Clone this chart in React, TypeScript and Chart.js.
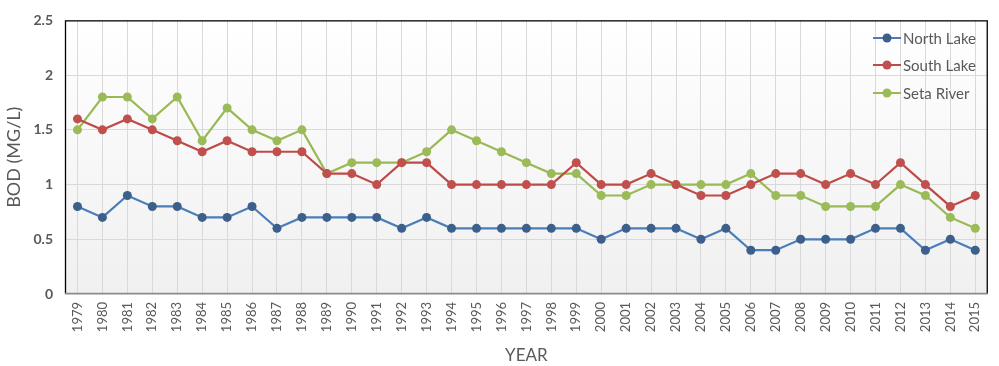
import React, { useEffect, useRef } from "react";
import { Chart, registerables } from "chart.js";

Chart.register(...registerables);

const years = [
  "1979","1980","1981","1982","1983","1984","1985","1986","1987","1988",
  "1989","1990","1991","1992","1993","1994","1995","1996","1997","1998",
  "1999","2000","2001","2002","2003","2004","2005","2006","2007","2008",
  "2009","2010","2011","2012","2013","2014","2015",
];

const northLake = [
  0.8, 0.7, 0.9, 0.8, 0.8, 0.7, 0.7, 0.8, 0.6, 0.7,
  0.7, 0.7, 0.7, 0.6, 0.7, 0.6, 0.6, 0.6, 0.6, 0.6,
  0.6, 0.5, 0.6, 0.6, 0.6, 0.5, 0.6, 0.4, 0.4, 0.5,
  0.5, 0.5, 0.6, 0.6, 0.4, 0.5, 0.4,
];

const southLake = [
  1.6, 1.5, 1.6, 1.5, 1.4, 1.3, 1.4, 1.3, 1.3, 1.3,
  1.1, 1.1, 1.0, 1.2, 1.2, 1.0, 1.0, 1.0, 1.0, 1.0,
  1.2, 1.0, 1.0, 1.1, 1.0, 0.9, 0.9, 1.0, 1.1, 1.1,
  1.0, 1.1, 1.0, 1.2, 1.0, 0.8, 0.9,
];

const setaRiver = [
  1.5, 1.8, 1.8, 1.6, 1.8, 1.4, 1.7, 1.5, 1.4, 1.5,
  1.1, 1.2, 1.2, 1.2, 1.3, 1.5, 1.4, 1.3, 1.2, 1.1,
  1.1, 0.9, 0.9, 1.0, 1.0, 1.0, 1.0, 1.1, 0.9, 0.9,
  0.8, 0.8, 0.8, 1.0, 0.9, 0.7, 0.6,
];

const yTickLabels = ["0", "0.5", "1", "1.5", "2", "2.5"];

const FONT = "Lato, 'Open Sans', sans-serif";

const bgPlugin = {
  id: "plotBg",
  beforeDraw(chart: any) {
    const { ctx, chartArea } = chart;
    const { left, top, right, bottom } = chartArea;
    ctx.save();
    const g = ctx.createLinearGradient(0, top, 0, bottom);
    g.addColorStop(0, "#ffffff");
    g.addColorStop(1, "#f0f0f0");
    ctx.fillStyle = g;
    ctx.fillRect(left, top, right - left, bottom - top);
    ctx.restore();
  },
  afterDraw(chart: any) {
    const { ctx, chartArea } = chart;
    const { left, top, right, bottom } = chartArea;
    ctx.save();
    ctx.lineWidth = 1.3;
    ctx.strokeStyle = "#000000";
    ctx.beginPath();
    ctx.moveTo(left + 0.5, bottom);
    ctx.lineTo(left + 0.5, top + 0.5);
    ctx.lineTo(right - 0.5, top + 0.5);
    ctx.lineTo(right - 0.5, bottom);
    ctx.stroke();
    ctx.strokeStyle = "#8c8c8c";
    ctx.beginPath();
    ctx.moveTo(left, bottom - 0.5);
    ctx.lineTo(right, bottom - 0.5);
    ctx.stroke();

    // legend
    const items = chart.data.datasets;
    const lx = 873;
    const ys = [38, 65, 93];
    ctx.font = `15px ${FONT}`;
    ctx.textBaseline = "middle";
    ctx.textAlign = "left";
    items.forEach((ds: any, i: number) => {
      const y = ys[i];
      ctx.strokeStyle = ds.borderColor;
      ctx.lineWidth = 2;
      ctx.beginPath();
      ctx.moveTo(lx, y);
      ctx.lineTo(lx + 28, y);
      ctx.stroke();
      ctx.fillStyle = ds.pointBackgroundColor;
      ctx.beginPath();
      ctx.arc(lx + 14, y, 4.5, 0, Math.PI * 2);
      ctx.fill();
      ctx.fillStyle = "#595959";
      ctx.fillText(ds.label, lx + 30, y + 1);
    });
    ctx.restore();
  },
};

export default function App() {
  const ref = useRef<HTMLCanvasElement>(null);

  useEffect(() => {
    document.body.style.margin = "0";
    const mk = (label: string, data: number[], line: string, pt: string) => ({
      label,
      data,
      borderColor: line,
      backgroundColor: pt,
      pointBackgroundColor: pt,
      pointBorderColor: pt,
      pointRadius: 4.5,
      pointBorderWidth: 0,
      borderWidth: 2.2,
      tension: 0,
    });
    const chart = new Chart(ref.current!, {
      type: "line",
      data: {
        labels: years,
        datasets: [
          mk("North Lake", northLake, "#4a7ebb", "#3d5f8c"),
          mk("South Lake", southLake, "#be4b48", "#c0504d"),
          mk("Seta River", setaRiver, "#98b954", "#9bbb59"),
        ],
      },
      options: {
        animation: false,
        responsive: false,
        layout: { padding: { left: 3, right: 9, top: 14, bottom: 0 } },
        plugins: { legend: { display: false }, tooltip: { enabled: false } },
        scales: {
          x: {
            offset: true,
            grid: { color: "#d9d9d9", drawTicks: false, offset: false, lineWidth: 1 },
            border: { display: false },
            ticks: {
              color: "#595959",
              font: { family: FONT, size: 13 },
              minRotation: 90,
              maxRotation: 90,
              autoSkip: false,
              padding: 8,
            },
            title: {
              display: true,
              text: "YEAR",
              color: "#595959",
              font: { family: FONT, size: 17 },
              padding: { top: 2, bottom: 0 },
            },
            afterFit(scale: any) {
              scale.height = 72;
            },
          },
          y: {
            min: 0,
            max: 2.5,
            ticks: {
              stepSize: 0.5,
              color: "#595959",
              font: { family: FONT, size: 14, weight: "bold" },
              padding: 12,
              callback: (_v: any, i: number) => yTickLabels[i],
            },
            grid: { color: "#d9d9d9", drawTicks: false, lineWidth: 1 },
            border: { display: false },
            title: {
              display: true,
              text: "BOD (MG/L)",
              color: "#595959",
              font: { family: FONT, size: 18 },
              padding: { top: 0, bottom: 4 },
            },
            afterFit(scale: any) {
              scale.width = 62;
            },
          },
        },
      },
      plugins: [bgPlugin],
    });
    return () => chart.destroy();
  }, []);

  return (
    <div style={{ width: 999, height: 366 }}>
      <canvas ref={ref} width={999} height={366} style={{ display: "block" }} />
    </div>
  );
}
